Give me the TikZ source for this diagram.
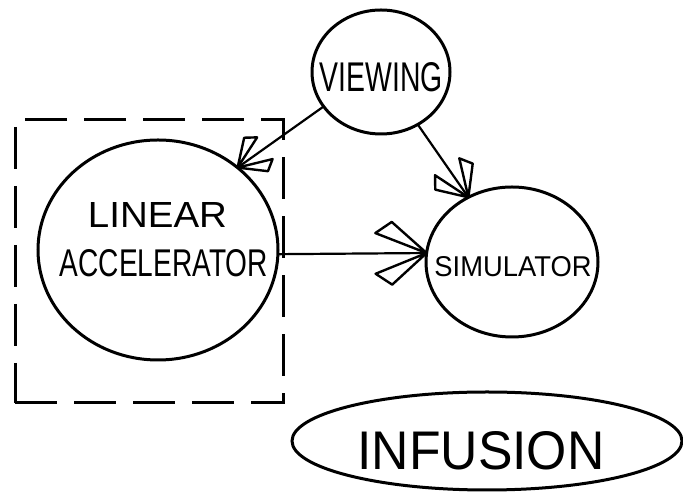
\documentclass[tikz,border=0pt]{standalone}
\usepackage{fontspec}
\setmainfont{Liberation Sans}
\usetikzlibrary{shapes.geometric,decorations.markings}
\tikzset{
  bubble/.style={ellipse, draw, line width=3pt, inner sep=0pt, outer sep=0pt},
  lbl/.style={inner sep=0pt, outer sep=0pt},
  groupbox/.style={draw, line width=3pt, dash pattern=on 42pt off 17pt, inner sep=0pt},
  conn/.style={line width=2.2pt},
  barbs/.style={postaction={decorate}, decoration={markings, mark=at position 1 with {
      \draw[line width=2.4pt, line join=round] (0,0) -- ({-0.93*#1},{0.37*#1}) -- ({-0.63*#1},{0.57*#1}) -- cycle;
      \draw[line width=2.4pt, line join=round] (0,0) -- ({-0.93*#1},{-0.37*#1}) -- ({-0.63*#1},{-0.57*#1}) -- cycle;
  }}}
}
\begin{document}
\begin{tikzpicture}[x=1pt,y=1pt]
  \useasboundingbox[fill=white] (0,0) rectangle (683,497);
  % group box
  \node[groupbox, minimum width=268pt, minimum height=283pt] (box) at (149,235.5) {};
  % bubbles
  \node[bubble, minimum width=138pt, minimum height=124pt] (v) at (381,425) {};
  \node[bubble, minimum width=240pt, minimum height=220pt] (la) at (158,247) {};
  \node[bubble, minimum width=172pt, minimum height=150pt] (sim) at (512,235) {};
  \node[bubble, minimum width=390pt, minimum height=98pt] (inf) at (487,56) {};
  % labels
  \node[lbl] (tv) at (381.5,419.5) {\resizebox{123pt}{29pt}{VIEWING}};
  \node[lbl] (tl1) at (157.5,281.5) {\resizebox{139pt}{25pt}{LINEAR}};
  \node[lbl] (tl2) at (164,233.5) {\resizebox{208pt}{27pt}{ACCELERATOR}};
  \node[lbl] (ts) at (513,230) {\resizebox{157pt}{20pt}{SIMULATOR}};
  \node[lbl] (ti) at (481,46) {\resizebox{247pt}{38pt}{INFUSION}};
  % connectors
  \draw[conn, barbs=36] (v.211.5) -- (la.46.4);
  \draw[conn, barbs=40] (v.305) -- (sim.124.4);
  \draw[conn, barbs=55] (la.-2.4) -- (sim.174.6);
\end{tikzpicture}
\end{document}
